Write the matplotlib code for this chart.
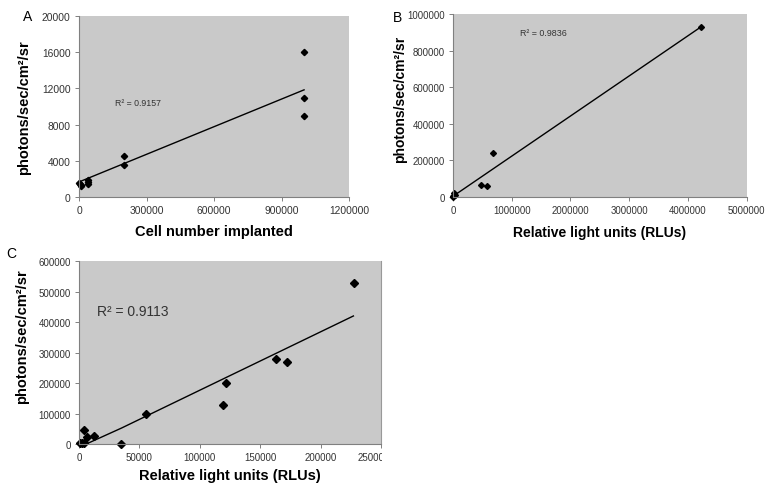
import matplotlib
matplotlib.use("Agg")
import matplotlib.pyplot as plt
from matplotlib.transforms import Bbox, TransformedBbox, ScaledTranslation

plt.rcParams['font.family'] = ['Liberation Sans', 'DejaVu Sans']

# panel A: cell number implanted vs photons
a_x = [0, 5000, 10000, 10000, 40000, 40000, 40000, 200000, 200000, 1000000, 1000000, 1000000]
a_y = [1500, 1400, 1250, 1350, 1900, 1400, 1650, 4500, 3500, 16000, 11000, 9000]
a_fit_x = [3000, 1000000]
a_fit_y = [1700, 11850]
a_r2 = 'R\u00b2 = 0.9157'

# panel B: RLU vs photons
b_x = [0, 10000, 20000, 30000, 480000, 577000, 689000, 4230000]
b_y = [2000, 5000, 20000, 12000, 66000, 60000, 239000, 932000]
b_fit_x = [5000, 4230000]
b_fit_y = [5000, 932000]
b_r2 = 'R\u00b2 = 0.9836'

# panel C: RLU vs photons
c_x = [800, 2800, 4400, 4100, 6900, 12150, 34500, 55200, 119000, 121800, 162700, 172000, 227300]
c_y = [2000, 2000, 2000, 45000, 24000, 27000, 1000, 98000, 128000, 199000, 280000, 268000, 529000]
c_fit_x = [6000, 35000, 227000]
c_fit_y = [0, 52000, 420000]
c_r2 = 'R\u00b2 = 0.9113'

ylab = 'photons/sec/cm\u00b2/sr'
bg = '#c9c9c9'

fig = plt.figure(figsize=(7.65, 4.89), dpi=100)
ax_a = fig.add_axes([0.1033, 0.595, 0.353, 0.370])
ax_b = fig.add_axes([0.592, 0.595, 0.384, 0.374])
ax_c = fig.add_axes([0.1033, 0.090, 0.395, 0.374])


def style(ax, tick_fs):
    ax.set_facecolor(bg)
    for s in ['top', 'right']:
        ax.spines[s].set_visible(False)
    for s in ['left', 'bottom']:
        ax.spines[s].set_color('#808080')
        ax.spines[s].set_linewidth(0.8)
    ax.tick_params(direction='out', length=3, width=0.7, color='#808080',
                   labelsize=tick_fs, labelcolor='#333333', pad=3)
    ax.ticklabel_format(style='plain', useOffset=False)


# A
style(ax_a, 7.4)
ax_a.plot(a_fit_x, a_fit_y, color='black', lw=1.0)
ax_a.plot(a_x, a_y, 'D', color='black', ms=3.2, clip_on=False)
ax_a.set_xlim(0, 1200000)
ax_a.set_ylim(0, 20000)
ax_a.set_xticks(range(0, 1200001, 300000))
ax_a.set_yticks(range(0, 20001, 4000))
ax_a.text(160000, 10400, a_r2, fontsize=6.3, color='#333333', va='center')
ax_a.set_xlabel('Cell number implanted', fontsize=10.5, fontweight='bold', labelpad=6)
ax_a.set_ylabel(ylab, fontsize=10.5, fontweight='bold')
ax_a.yaxis.set_label_coords(-48 / 270, 0.5)

# B
style(ax_b, 6.9)
ax_b.plot(b_fit_x, b_fit_y, color='black', lw=1.0)
ax_b.plot(b_x, b_y, 'D', color='black', ms=3.0, clip_on=False)
ax_b.set_xlim(0, 5000000)
ax_b.set_ylim(0, 1000000)
ax_b.set_xticks(range(0, 5000001, 1000000))
ax_b.set_yticks(range(0, 1000001, 200000))
ax_b.text(1150000, 899000, b_r2, fontsize=6.4, color='#333333', va='center')
ax_b.set_xlabel('Relative light units (RLUs)', fontsize=10, fontweight='bold', labelpad=7)
ax_b.set_ylabel(ylab, fontsize=10, fontweight='bold')
ax_b.yaxis.set_label_coords(-46 / 294, 0.54)

# C
style(ax_c, 7.0)
ax_c.spines['right'].set_visible(True)
ax_c.spines['right'].set_color('#999999')
ax_c.spines['right'].set_linewidth(0.8)
ax_c.plot(c_fit_x, c_fit_y, color='black', lw=1.0)
ax_c.plot(c_x, c_y, 'D', color='black', ms=4.0, clip_on=False)
ax_c.set_xlim(0, 250000)
ax_c.set_ylim(0, 600000)
ax_c.set_xticks(range(0, 250001, 50000))
ax_c.set_yticks(range(0, 600001, 100000))
ax_c.text(14500, 436000, c_r2, fontsize=10, color='#333333', va='center')
ax_c.set_xlabel('Relative light units (RLUs)', fontsize=10.5, fontweight='bold', labelpad=4)
ax_c.set_ylabel(ylab, fontsize=10.5, fontweight='bold')
ax_c.yaxis.set_label_coords(-50 / 302, 0.59)

# last label of panel C is cut at the panel edge in the original
clip = TransformedBbox(Bbox([[0, 0], [382 / 765, 1]]), fig.transFigure)
last = ax_c.xaxis.get_major_ticks()[-1].label1
last.set_transform(last.get_transform() + ScaledTranslation(-8 / 100, 0, fig.dpi_scale_trans))
last.set_clip_on(True)
last.set_clip_box(clip)

fig.text(28 / 765, 1 - 17 / 489, 'A', fontsize=10, va='center', ha='center')
fig.text(397 / 765, 1 - 18 / 489, 'B', fontsize=10, va='center', ha='center')
fig.text(11 / 765, 1 - 254 / 489, 'C', fontsize=10, va='center', ha='center')

fig.savefig('out.png', dpi=100)
